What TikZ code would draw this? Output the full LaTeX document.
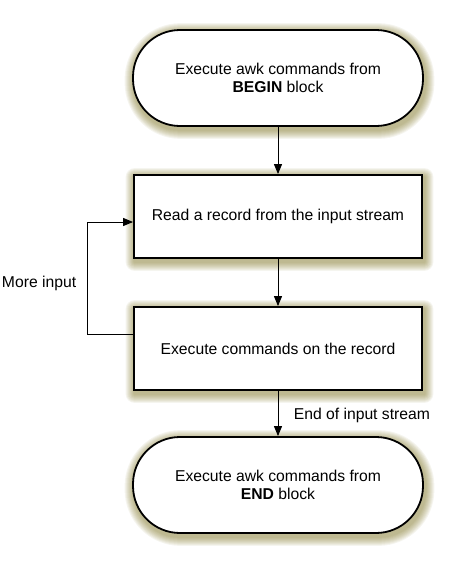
\documentclass[tikz,border=0pt]{standalone}
\usepackage{fontspec}
\setmainfont{Liberation Sans}
\usetikzlibrary{arrows.meta,backgrounds}
\definecolor{shadowcol}{RGB}{125,115,35}
\tikzset{
  boxbase/.style={draw=black, line width=1.8pt, fill=white, align=center,
    font=\fontsize{15.7}{18}\selectfont},
  stadium/.style={boxbase, minimum width=290pt, minimum height=96pt, rounded corners=47pt},
  procbox/.style={boxbase, minimum width=288pt, minimum height=83pt},
  arr/.style={line width=1pt, -{Triangle[length=10pt,width=8pt]}},
  lbl/.style={font=\fontsize{15.7}{18}\selectfont},
  shadowlayer/.style={fill=shadowcol, opacity=0.075}
}
\newcommand\glowshadow[2]{%
  \foreach \i in {1,...,9} {
    \fill[shadowlayer, rounded corners=#2+\i*1pt]
      ([shift={(1.5-\i,3-\i)}]#1.north west) rectangle ([shift={(1.5+\i,3+\i)}]#1.south east);
  }%
}
\begin{document}
\begin{tikzpicture}[x=1pt,y=-1pt]
\useasboundingbox (0,0) rectangle (450,568);
\node[stadium] (top) at (278,78) {Execute awk commands from\\\textbf{BEGIN} block};
\node[procbox] (r1) at (278,216.5) {Read a record from the input stream};
\node[procbox] (r2) at (278,348.5) {Execute commands on the record};
\node[stadium] (bot) at (278,485) {Execute awk commands from\\\textbf{END} block};
\begin{scope}[on background layer]
  \glowshadow{top}{47pt}
  \glowshadow{r1}{0pt}
  \glowshadow{r2}{0pt}
  \glowshadow{bot}{47pt}
\end{scope}
\coordinate (l1) at (87,334);
\coordinate (l2) at (87,222);
\draw[arr] (top) -- (r1);
\draw[arr] (r1) -- (r2);
\draw[arr] (r2) -- node[lbl, midway, anchor=west, xshift=12pt, yshift=-2pt] (eis) {End of input stream} (bot);
\draw[arr] (r2.west |- l1) -- (l1) -- node[lbl, midway, anchor=east, xshift=-7pt, yshift=-5pt] (mi) {More input} (l2) -- (r1.west |- l2);
\end{tikzpicture}
\end{document}
